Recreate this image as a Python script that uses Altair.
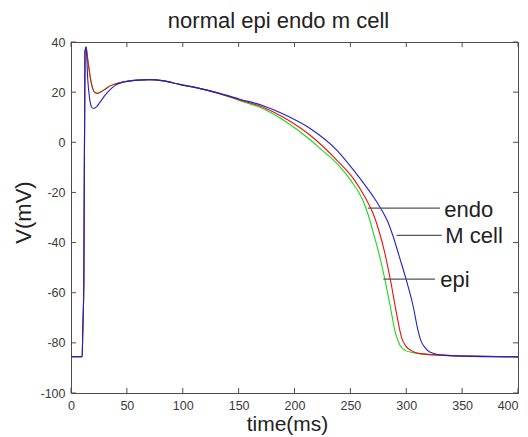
import altair as alt
import pandas as pd

# ---- data ----
epi_t = [0, 10, 10.5, 11.5, 12.5, 13.5, 15, 18, 21, 23.5, 26, 30, 35, 40, 50, 60, 70, 83, 97, 112, 133,
         151, 172, 190, 214, 223, 238, 250, 262, 266, 270.5, 276.5, 281, 285.5, 290, 294.4, 299, 305,
         312, 330, 360, 400]
epi_v = [-85.5, -85.5, -76, -55, 36, 38, 33, 24, 20, 19.5, 20, 21, 22.5, 23.3, 24.3, 24.8, 25, 24.5, 23.1,
         21.8, 19.4, 16.6, 13.4, 8.9, 1.0, -2.5, -8.5, -15, -24, -29, -36, -46, -55, -65, -75.5,
         -81, -83, -83.8, -84.3, -84.9, -85.3, -85.6]

endo_t = [0, 10, 10.5, 11.5, 12.5, 13.5, 15, 18, 21, 23.5, 26, 30, 35, 40, 50, 60, 70, 83, 97, 112, 133,
          151, 172, 190, 214, 238, 252.7, 262, 266, 270.6, 275, 281, 286, 291.4, 295.9, 300, 305, 311,
          330, 360, 400]
endo_v = [-85.5, -85.5, -76, -55, 36, 38, 33, 24, 20, 19.5, 20, 21, 22.5, 23.3, 24.3, 24.8, 25, 24.5, 23.1,
          21.8, 19.4, 16.9, 14.0, 10.0, 2.8, -7.2, -14.5, -21, -24.3, -28.7, -34.5, -44.5, -55.3, -68.5,
          -78, -81.5, -83.2, -84.2, -84.9, -85.3, -85.6]

mcell_t = [0, 10, 10.5, 11.5, 12.5, 13.5, 15, 16.5, 18, 20, 23, 26, 30, 35, 40, 46.5, 50, 60, 70, 83, 97,
           112, 133, 151, 172, 190, 214, 238, 252.7, 264.6, 271, 278.7, 283, 288, 294.4, 300.4, 306.3,
           310, 313, 317, 321, 333, 350, 400]
mcell_v = [-85.5, -85.5, -76, -55, 36, 38, 25, 18, 14.5, 13.5, 14.2, 16, 18.5, 21, 22.8, 24, 24.3, 24.8,
           25, 24.5, 23.1, 21.8, 19.5, 17.2, 14.6, 11.3, 5.5, -3.2, -11, -18, -22, -27.5, -31.2,
           -37.2, -46.5, -55.5, -65.6, -74, -79, -82, -83.6, -84.9, -85.3, -85.6]

series_names = ["epi", "endo", "M cell"]
series_colors = ["#18d818", "#e81010", "#2020d0"]

ann_labels = ["endo", "M cell", "epi"]
ann_t_start = [265.8, 291.4, 279.5]
ann_t_end = [330.2, 331.7, 325.7]
ann_v = [-26.3, -37.1, -54.6]
ann_text_t = [334.0, 335.0, 330.5]
ann_text_v = [-27.2, -37.5, -55.0]

x_ticks = [0, 50, 100, 150, 200, 250, 300, 350, 400]
y_ticks = [-100, -80, -60, -40, -20, 0, 20, 40]

W, H = 447, 351
axis_col = "#4d4d4d"
label_col = "#3a3a3a"

x_scale = alt.Scale(domain=[0, 400], nice=False, zero=False)
y_scale = alt.Scale(domain=[-100, 40], nice=False, zero=False)

x_axis = alt.Axis(values=x_ticks, ticks=False, tickSize=0, grid=False, labelPadding=6,
                  labelFontSize=12.5, labelColor=label_col, domainColor=axis_col,
                  labelFlush=False, labelOverlap=False,
                  labelAlign={"condition": {"test": "datum.value >= 400", "value": "right"},
                              "value": "center"},
                  labelExpr="'' + datum.value", title="time(ms)", titleFontSize=21,
                  titleFontWeight="normal", titleColor="#222", titleX=216, titleY=37,
                  titleBaseline="alphabetic", titleAlign="center")
y_axis = alt.Axis(values=y_ticks, ticks=False, tickSize=0, grid=False, labelPadding=6,
                  labelFontSize=12.5, labelColor=label_col, domainColor=axis_col,
                  labelFlush=False, labelOverlap=False,
                  labelExpr="'' + datum.value", title="V(mV)", titleFontSize=22,
                  titleFontWeight="normal", titleColor="#222", titleX=-41, titleY=170,
                  titleAngle=-90, titleBaseline="alphabetic", titleAlign="center")


def xe(field):
    return alt.X(field, type="quantitative", scale=x_scale, axis=x_axis)


def ye(field):
    return alt.Y(field, type="quantitative", scale=y_scale, axis=y_axis)


layers = []
for name, ts, vs, col in zip(series_names, [epi_t, endo_t, mcell_t], [epi_v, endo_v, mcell_v],
                             series_colors):
    df = pd.DataFrame({"t": ts, "v": vs, "series": name})
    layers.append(
        alt.Chart(df).mark_line(color=col, strokeWidth=1.1, interpolate="monotone", clip=True)
        .encode(x=xe("t"), y=ye("v"))
    )

ann = pd.DataFrame({"label": ann_labels, "t0": ann_t_start, "t1": ann_t_end, "v": ann_v,
                    "tt": ann_text_t, "tv": ann_text_v})
layers.append(
    alt.Chart(ann).mark_rule(color="#555555", strokeWidth=1.3)
    .encode(x=xe("t0"), x2="t1", y=ye("v"))
)
layers.append(
    alt.Chart(ann).mark_text(align="left", baseline="middle", fontSize=22, color="#222222")
    .encode(x=xe("tt"), y=ye("tv"), text="label")
)

xt = pd.DataFrame({"t": x_ticks})
yt = pd.DataFrame({"v": y_ticks})
layers.append(alt.Chart(xt).mark_rule(color=axis_col).encode(
    x=xe("t"), y=alt.value(H), y2=alt.value(H - 5)))
layers.append(alt.Chart(xt).mark_rule(color=axis_col).encode(
    x=xe("t"), y=alt.value(0), y2=alt.value(5)))
layers.append(alt.Chart(yt).mark_rule(color=axis_col).encode(
    y=ye("v"), x=alt.value(0), x2=alt.value(5)))
layers.append(alt.Chart(yt).mark_rule(color=axis_col).encode(
    y=ye("v"), x=alt.value(W), x2=alt.value(W - 5)))

chart = alt.layer(*layers).properties(
    width=W, height=H,
    title=alt.TitleParams("normal epi endo m cell", fontSize=22, fontWeight="normal",
                          color="#222222", anchor="middle", dx=-16, offset=3),
    autosize=alt.AutoSizeParams(type="none"),
    padding={"left": 63, "top": 34, "right": 2, "bottom": 44},
).configure(font="Liberation Sans", background="white").configure_view(
    stroke=axis_col, strokeWidth=1
)

chart.save("out.html", embed_options={"renderer": "svg", "actions": False})
